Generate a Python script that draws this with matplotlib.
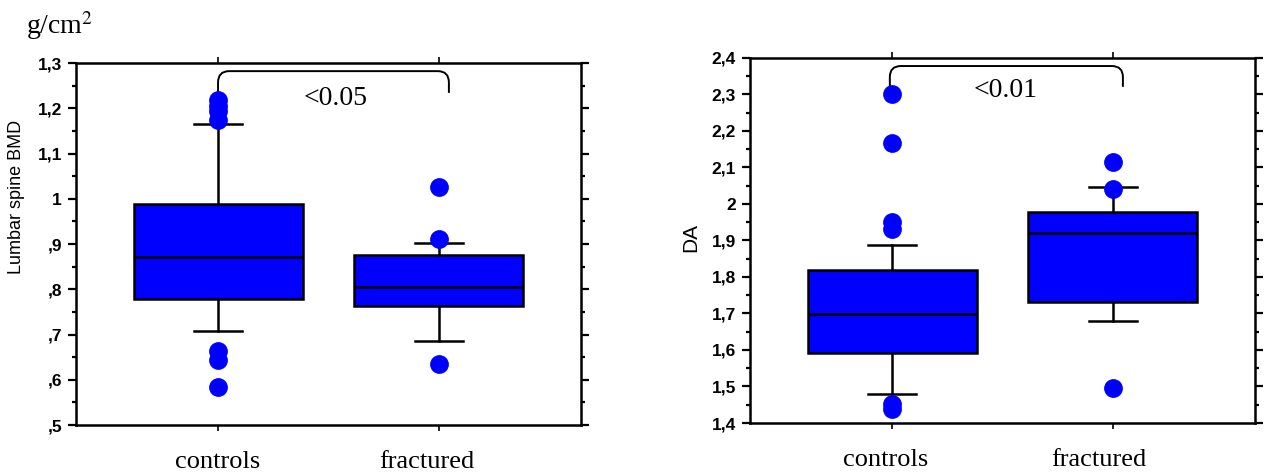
import matplotlib
matplotlib.use("Agg")
import matplotlib.pyplot as plt
from matplotlib.path import Path
from matplotlib.patches import PathPatch
from matplotlib.ticker import MultipleLocator
import matplotlib.transforms as mtransforms

plt.rcParams['font.family'] = ['Liberation Sans', 'DejaVu Sans']
plt.rcParams['mathtext.fontset'] = 'stix'

# ---------------- data ----------------
categories = ["controls", "fractured"]

# Lumbar spine BMD (g/cm2)
bmd_q1 = [0.778, 0.763]
bmd_med = [0.871, 0.805]
bmd_q3 = [0.988, 0.876]
bmd_whislo = [0.707, 0.686]
bmd_whishi = [1.166, 0.902]
bmd_fliers_controls = [1.218, 1.205, 1.193, 1.173, 0.664, 0.644, 0.583]
bmd_fliers_fractured = [1.025, 0.910, 0.634]
bmd_yticks = [0.5, 0.6, 0.7, 0.8, 0.9, 1.0, 1.1, 1.2, 1.3]
bmd_yticklabels = [",5", ",6", ",7", ",8", ",9", "1", "1,1", "1,2", "1,3"]
bmd_pvalue = "<0.05"

# DA
da_q1 = [1.593, 1.732]
da_med = [1.699, 1.921]
da_q3 = [1.819, 1.977]
da_whislo = [1.479, 1.680]
da_whishi = [1.887, 2.046]
da_fliers_controls = [2.302, 2.168, 1.951, 1.931, 1.452, 1.438]
da_fliers_fractured = [2.116, 2.042, 1.497]
da_yticks = [1.4, 1.5, 1.6, 1.7, 1.8, 1.9, 2.0, 2.1, 2.2, 2.3, 2.4]
da_yticklabels = ["1,4", "1,5", "1,6", "1,7", "1,8", "1,9", "2", "2,1", "2,2", "2,3", "2,4"]
da_pvalue = "<0.01"

BLUE = "#0000ff"
W, H = 1265, 472
fig = plt.figure(figsize=(W / 100, H / 100), dpi=100)


def px_axes(l, t, r, b):
    return fig.add_axes([l / W, (H - b) / H, (r - l) / W, (b - t) / H])


def make_panel(ax, q1, med, q3, wlo, whi, fl_c, fl_f, yticks, ylabels, ylim,
               br, ptext, label_shift):
    stats = []
    fliers = [fl_c, fl_f]
    for i in range(2):
        stats.append(dict(med=med[i], q1=q1[i], q3=q3[i], whislo=wlo[i],
                          whishi=whi[i], fliers=fliers[i], label=categories[i]))
    ax.bxp(stats, positions=[1, 2], widths=0.765, capwidths=0.217,
           patch_artist=True, showfliers=True,
           boxprops=dict(facecolor=BLUE, edgecolor="black", linewidth=1.8),
           medianprops=dict(color="black", linewidth=1.8),
           whiskerprops=dict(color="black", linewidth=1.8),
           capprops=dict(color="black", linewidth=1.8),
           flierprops=dict(marker="o", markerfacecolor=BLUE,
                           markeredgecolor=BLUE, markersize=12.5))
    ax.set_xlim(0.357, 2.643)
    ax.set_ylim(*ylim)
    ax.set_yticks(yticks)
    ax.set_yticklabels(ylabels, fontsize=12.5, fontweight="bold")
    ax.yaxis.set_minor_locator(MultipleLocator(0.05))
    ax.set_xticks([1, 2])
    ax.set_xticklabels(categories, fontsize=19, family="Liberation Serif")
    for sp in ax.spines.values():
        sp.set_linewidth(1.8)
    ax.tick_params(axis="y", which="both", direction="out", left=True,
                   right=True, labelright=False, width=1.6, pad=4)
    ax.tick_params(axis="y", which="major", length=6)
    ax.tick_params(axis="y", which="minor", length=3)
    ax.tick_params(axis="x", direction="out", top=True, bottom=True,
                   length=4, width=1.2, pad=15)
    for lbl, dx in zip(ax.get_xticklabels(), label_shift):
        off = mtransforms.ScaledTranslation(dx / 100, 0, fig.dpi_scale_trans)
        lbl.set_transform(lbl.get_transform() + off)

    # significance bracket with rounded corners
    x1, x2, yb, yt, rx, ry = br
    verts = [(x1, yb), (x1, yt - ry), (x1, yt), (x1 + rx, yt),
             (x2 - rx, yt), (x2, yt), (x2, yt - ry), (x2, yb)]
    codes = [Path.MOVETO, Path.LINETO, Path.CURVE3, Path.CURVE3,
             Path.LINETO, Path.CURVE3, Path.CURVE3, Path.LINETO]
    ax.add_patch(PathPatch(Path(verts, codes), fill=False, edgecolor="black",
                           linewidth=1.4, clip_on=False))
    ax.text(ptext[0], ptext[1], ptext[2], ha="center", va="center",
            fontsize=20, family="Liberation Serif")


# left panel
ax1 = px_axes(76, 63, 581, 425)
make_panel(ax1, bmd_q1, bmd_med, bmd_q3, bmd_whislo, bmd_whishi,
           bmd_fliers_controls, bmd_fliers_fractured, bmd_yticks,
           bmd_yticklabels, (0.5, 1.3),
           (1.0, 2.045, 1.234, 1.282, 0.05, 0.025), (1.53, 1.222, bmd_pvalue),
           (0, -12))
fig.text(17 / W, (H - 197) / H, "Lumbar spine BMD", rotation=90,
         ha="center", va="center", fontsize=13)
fig.text(60 / W, (H - 26) / H, "g/cm$^2$", ha="center", va="center",
         fontsize=20, family="Liberation Serif")

# right panel
ax2 = px_axes(750, 58, 1255, 423)
make_panel(ax2, da_q1, da_med, da_q3, da_whislo, da_whishi,
           da_fliers_controls, da_fliers_fractured, da_yticks,
           da_yticklabels, (1.4, 2.4),
           (0.99, 2.045, 2.321, 2.378, 0.05, 0.03), (1.516, 2.31, da_pvalue),
           (-6, -14))
fig.text(691 / W, (H - 237) / H, "DA", rotation=90,
         ha="center", va="center", fontsize=15)

fig.savefig("out.png", dpi=100)
